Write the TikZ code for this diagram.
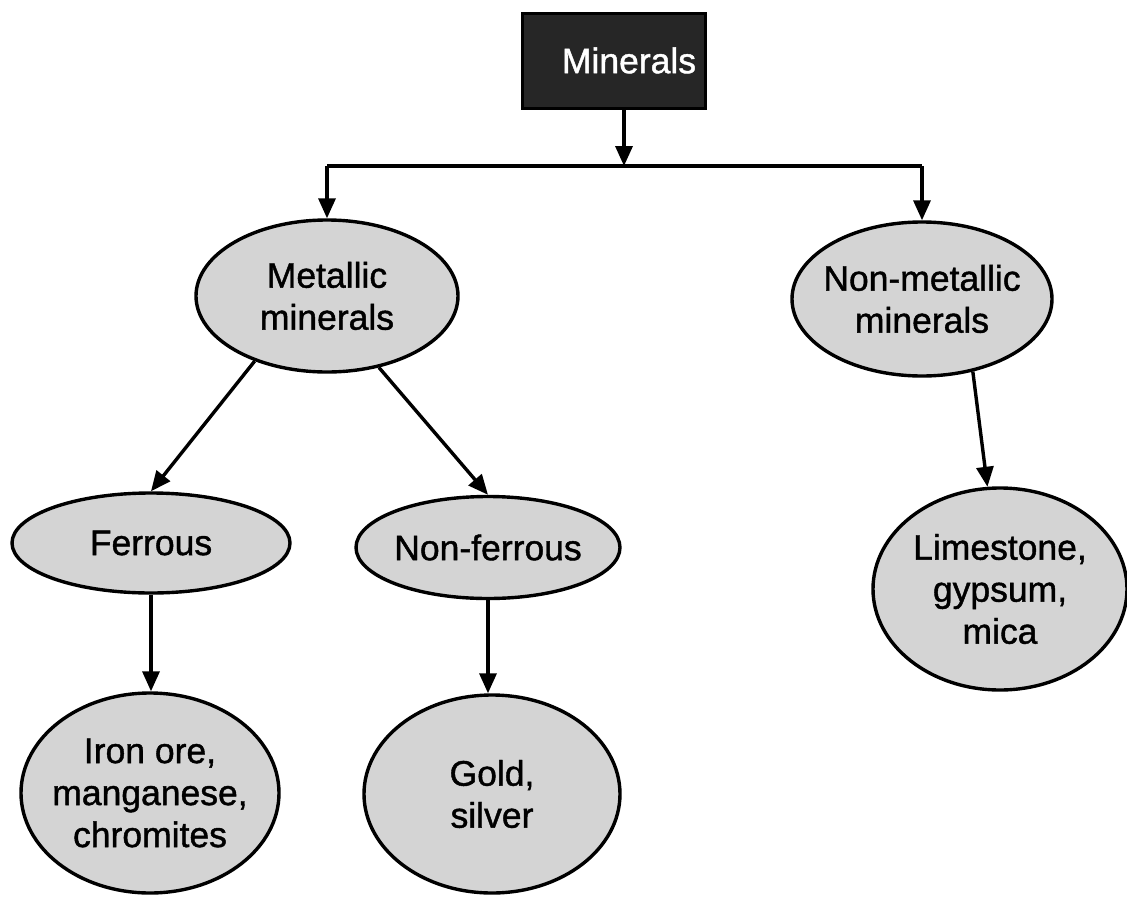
\documentclass[tikz,border=0pt]{standalone}
\usepackage{fontspec}
\setmainfont{Liberation Sans}
\newfontfamily\inkfont{Liberation Sans}[FakeBold=1.2]
\usetikzlibrary{arrows.meta,shapes.geometric}
\definecolor{boxdark}{HTML}{262626}
\definecolor{ovalfill}{HTML}{D4D4D4}
\begin{document}
\begin{tikzpicture}[x=1pt,y=-1pt,
  every node/.style={font=\inkfont\fontsize{35.5}{42}\selectfont, align=center},
  topbox/.style={draw=black, line width=3pt, fill=boxdark, text=white,
    minimum width=183pt, minimum height=95pt, inner sep=0pt},
  oval/.style={draw=black, line width=3.4pt, fill=ovalfill, shape=ellipse,
    inner sep=-20pt},
  link/.style={line width=3.4pt, draw=black},
  arr/.style={link, -{Triangle[length=20pt,width=17pt]}}]
\useasboundingbox (0,0) rectangle (1127,897);

% root
\node[topbox] (root) at (613.5,60.5) {\hspace*{31pt}Minerals};

% first level
\node[oval, minimum width=262pt, minimum height=152pt] (met) at (327,296) {Metallic\\minerals};
\node[oval, minimum width=260pt, minimum height=154pt] (nm) at (922,299) {Non-metallic\\minerals};

% second level
\node[oval, minimum width=278pt, minimum height=100pt] (fer) at (151,543) {Ferrous};
\node[oval, minimum width=264pt, minimum height=102pt] (nfer) at (488,547.5) {Non-ferrous};
\node[oval, minimum width=254pt, minimum height=202pt] (lime) at (1000,589) {Limestone,\\gypsum,\\mica};

% third level
\node[oval, minimum width=258pt, minimum height=200pt] (iron) at (150,793) {Iron ore,\\manganese,\\chromites};
\node[oval, minimum width=256pt, minimum height=198pt] (gold) at (492,794) {Gold,\\silver};

% branching bar under the root
\coordinate (jl) at (327,166);
\coordinate (jm) at (624,166);
\coordinate (jr) at (922,166);
\draw[link] (jl) -- (jr);
\draw[arr] (root.south -| jm) -- (jm);
\draw[arr] (jl) -- (met.north);
\draw[arr] (jr) -- (nm.north);

% metallic branch
\draw[arr] (met.222) -- (fer.north);
\draw[arr] (met.-54) -- (nfer.north);
\draw[arr] (fer.south) -- (iron.north -| fer.south);
\draw[arr] (nfer.south) -- (gold.north -| nfer.south);

% non-metallic branch
\draw[arr] (nm.-55) -- (lime.97);
\end{tikzpicture}
\end{document}
